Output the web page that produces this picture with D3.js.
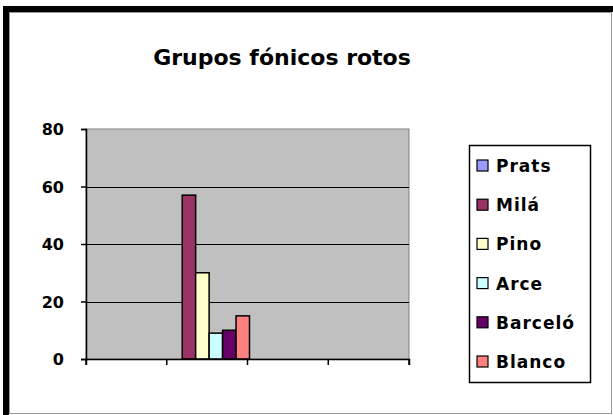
<!DOCTYPE html>
<html>
<head>
<meta charset="utf-8">
<script src="https://cdn.jsdelivr.net/npm/d3@7"></script>
<style>
  body { margin: 0; background: #fff; }
  text { font-family: "DejaVu Sans", sans-serif; font-weight: bold; fill: #000; }
</style>
</head>
<body>
<div id="chart"></div>
<script>
// data (only the 2nd category slot holds values)
const categories = ["c1", "c2", "c3", "c4"];
const seriesNames = ["Prats", "Milá", "Pino", "Arce", "Barceló", "Blanco"];
const seriesValues = [
	[null, 0, null, null],
	[null, 57, null, null],
	[null, 30, null, null],
	[null, 9, null, null],
	[null, 10, null, null],
	[null, 15, null, null]
];
const seriesColors = ["#9999FF", "#993366", "#FFFFCC", "#CCFFFF", "#660066", "#FF8080"];
const yTicks = [0, 20, 40, 60, 80];
const title = "Grupos fónicos rotos";

const W = 613, H = 415;
const margin = { top: 129, left: 86 },
      width = 409 - 86,
      height = 359 - 129;

const svg = d3.select("#chart").append("svg")
	.attr("width", W)
	.attr("height", H);

// window frame: thick black top/left, thin grey inner line
svg.append("rect").attr("x", 3).attr("y", 6).attr("width", 610).attr("height", 6).attr("fill", "#000");
svg.append("rect").attr("x", 3).attr("y", 6).attr("width", 6).attr("height", 409).attr("fill", "#000");
svg.append("rect")
	.attr("x", 9.5).attr("y", 12.5)
	.attr("width", 602).attr("height", 401)
	.attr("fill", "#fff")
	.attr("stroke", "#999");

// title
svg.append("text")
	.attr("x", 282)
	.attr("y", 65)
	.attr("text-anchor", "middle")
	.style("font-size", "22px")
	.text(title);

const g = svg.append("g").attr("transform", `translate(${margin.left},${margin.top})`);

const x0 = d3.scaleBand().domain(categories).range([0, width]);
const x1 = d3.scaleBand().domain(seriesNames).range([2, x0.bandwidth() + 2]);
const y = d3.scaleLinear().domain([0, 80]).range([height, 0]);

// plot area
g.append("rect")
	.attr("width", width)
	.attr("height", height)
	.attr("fill", "#C0C0C0")
	.attr("stroke", "#808080");

// gridlines
g.selectAll("line.grid")
	.data(yTicks.filter(d => d > 0 && d < 80))
	.enter().append("line")
	.attr("class", "grid")
	.attr("x1", 0).attr("x2", width)
	.attr("y1", d => Math.round(y(d)) + 0.5)
	.attr("y2", d => Math.round(y(d)) + 0.5)
	.attr("stroke", "#000");

// bars
const bars = [];
seriesNames.forEach((name, si) => {
	seriesValues[si].forEach((v, ci) => {
		if (v !== null) bars.push({ name: name, cat: categories[ci], value: v, color: seriesColors[si] });
	});
});

g.selectAll("rect.bar")
	.data(bars)
	.enter().append("rect")
	.attr("class", "bar")
	.attr("x", d => x0(d.cat) + x1(d.name))
	.attr("y", d => y(d.value))
	.attr("width", x1.bandwidth())
	.attr("height", d => height - y(d.value))
	.attr("fill", d => d.color)
	.attr("stroke", "#000")
	.attr("stroke-width", 1.5);

// axes
const yAxis = g.append("g")
	.call(d3.axisLeft(y).tickValues(yTicks).tickSize(5).tickPadding(17));
yAxis.selectAll("text")
	.style("font-size", "16px")
	.style("font-family", "DejaVu Sans")
	.style("font-weight", "bold")
	.attr("dy", "0.36em");
yAxis.selectAll("line, path").attr("stroke", "#000").attr("stroke-width", 1.5);

const xAxis = g.append("g")
	.attr("transform", `translate(0,${height})`)
	.call(d3.axisBottom(x0).tickSizeOuter(0).tickSize(6).tickFormat(""));
xAxis.selectAll(".tick").remove();
xAxis.selectAll("line.sep")
	.data(d3.range(categories.length + 1))
	.enter().append("line")
	.attr("class", "sep")
	.attr("x1", i => i * x0.bandwidth())
	.attr("x2", i => i * x0.bandwidth())
	.attr("y1", 0).attr("y2", 6)
	.attr("stroke", "#000")
	.attr("stroke-width", 1.5);
xAxis.select("path").attr("stroke", "#000").attr("stroke-width", 1.5);

// legend
const legend = svg.append("g").attr("transform", "translate(469,145)");
legend.append("rect")
	.attr("x", 0.5).attr("y", 0.5)
	.attr("width", 121).attr("height", 237)
	.attr("fill", "#fff")
	.attr("stroke", "#000")
	.attr("stroke-width", 1.5);

const item = legend.selectAll("g.item")
	.data(seriesNames)
	.enter().append("g")
	.attr("class", "item")
	.attr("transform", (d, i) => `translate(0,${21 + i * 39.2})`);

item.append("rect")
	.attr("x", 8).attr("y", -6)
	.attr("width", 11).attr("height", 11)
	.attr("fill", (d, i) => seriesColors[i])
	.attr("stroke", "#000")
	.attr("stroke-width", 1.2);

item.append("text")
	.attr("x", 27)
	.attr("y", 6)
	.style("font-size", "17px")
	.style("letter-spacing", "1px")
	.text(d => d);
</script>
</body>
</html>
